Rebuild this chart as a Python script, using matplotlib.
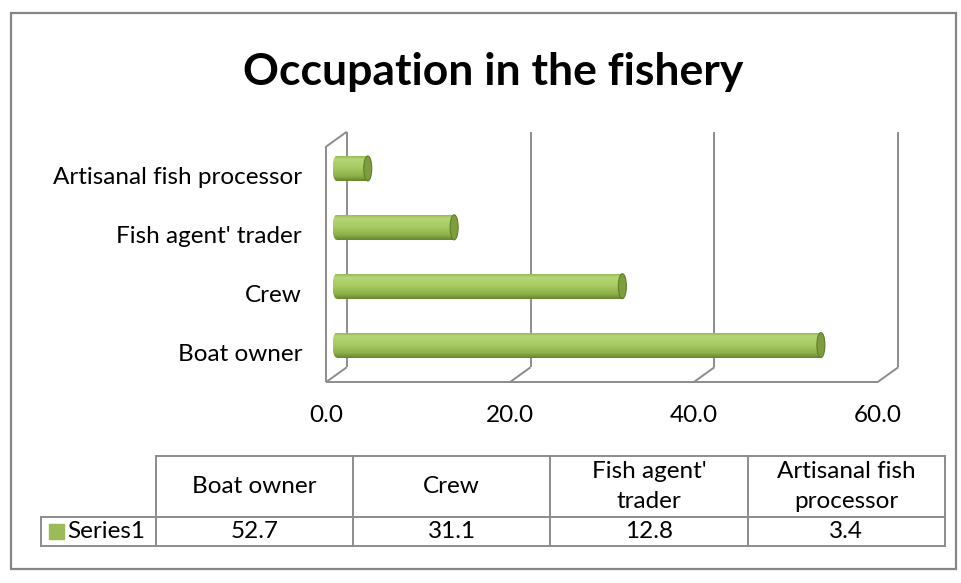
import textwrap
import numpy as np
import matplotlib.pyplot as plt
from matplotlib.patches import Ellipse, Rectangle
from matplotlib.colors import LinearSegmentedColormap

# data
categories = ["Boat owner", "Crew", "Fish agent' trader", "Artisanal fish processor"]
values = [52.7, 31.1, 12.8, 3.4]
x_ticks = [0, 20, 40, 60]
series_name = "Series1"
title = "Occupation in the fishery"

W, H = 961, 583
plt.rcParams['font.family'] = ['Lato', 'DejaVu Sans']
fig = plt.figure(figsize=(W / 100, H / 100), dpi=100)
fig.patch.set_facecolor('white')

grey = '#8c8c8c'
green = '#9bbb59'
fs = 17.5


def fig_box(left, top, right, bottom):
    return [left / W, 1 - bottom / H, (right - left) / W, (bottom - top) / H]


# outer chart border
fig.patches.append(Rectangle((11 / W, 1 - 569 / H), 945 / W, 556 / H,
                             transform=fig.transFigure, fill=False,
                             edgecolor='#868686', lw=1.6))

fig.text(493 / W, 1 - 85 / H, title, ha='center', va='baseline',
         fontsize=32, fontweight='bold')

# bar axes = middle depth plane of the fake 3D box
left, top, right, bottom = 336.5, 139, 888, 374.5
ax = fig.add_axes(fig_box(left, top, right, bottom))
ax.axis('off')
sx = (right - left) / 60
sy = (bottom - top) / 4
y0, y1 = -0.5, 3.5
bx, by = 10.25 / sx, 7.25 / sy       # back wall shift
fx, fy = -10.25 / sx, -7.5 / sy      # front shift

line_kw = dict(color=grey, lw=1.4, clip_on=False, zorder=1,
               solid_capstyle='butt')
for t in x_ticks:
    ax.plot([t + bx, t + bx], [y0 + by, y1 + by], **line_kw)
    ax.plot([t + bx, t + fx], [y0 + by, y0 + fy], **line_kw)
ax.plot([x_ticks[0] + fx, x_ticks[-1] + fx], [y0 + fy, y0 + fy], **line_kw)
ax.plot([fx, fx], [y0 + fy, y1 + fy], **line_kw)
ax.plot([fx, bx], [y1 + fy, y1 + by], **line_kw)

# cylinders
bar_h = 25 / sy
cap_w = 8 / sx
cyl = LinearSegmentedColormap.from_list('cyl', [
    (0.0, '#97b957'), (0.12, '#b5d675'), (0.45, '#a8cb63'),
    (0.8, '#8fb04a'), (1.0, '#66862d')])
grad = np.linspace(0, 1, 64).reshape(-1, 1)
bars = ax.barh(range(len(values)), values, height=bar_h, color=green,
               zorder=3)
for i, (v, rect) in enumerate(zip(values, bars)):
    ext = (-cap_w / 2, v, i - bar_h / 2, i + bar_h / 2)
    im = ax.imshow(grad, cmap=cyl, aspect='auto', extent=ext, zorder=4,
                   interpolation='bicubic')
    im.set_clip_path(rect)
    end_l = Ellipse((0, i), cap_w, bar_h, transform=ax.transData)
    im2 = ax.imshow(grad, cmap=cyl, aspect='auto', extent=ext, zorder=4,
                    interpolation='bicubic')
    im2.set_clip_box(fig.bbox)
    im2.set_clip_path(end_l)
    ax.add_patch(Ellipse((v, i), cap_w, bar_h, facecolor='#7e9e3e',
                         edgecolor='#5f7d2b', lw=0.8, zorder=5))

ax.set_xlim(0, 60)
ax.set_ylim(y0, y1)

# category labels and value axis labels
for i, c in enumerate(categories):
    ax.text((302 - left) / sx, i - 9.5 / sy, c, ha='right', va='center',
            fontsize=fs, clip_on=False)
for t in x_ticks:
    ax.text(t + fx, y0 - (415 - bottom) / sy, f'{t:.1f}', ha='center',
            va='center', fontsize=fs, clip_on=False)

# data table
t_left, t_top, t_right, t_bot, t_split = 155.7, 456, 945, 546, 517
tab = fig.add_axes(fig_box(t_left, t_top, t_right, t_bot))
tab.axis('off')
n = len(categories)
tab.set_xlim(0, n)
tab.set_ylim(0, 1)
cw = (t_right - t_left) / n
r = (t_bot - t_split) / (t_bot - t_top)
leg_left = -(t_left - 40.7) / cw
tk = dict(color=grey, lw=1.4, clip_on=False)
tab.plot([0, n], [1, 1], **tk)
tab.plot([leg_left, n], [r, r], **tk)
tab.plot([leg_left, n], [0, 0], **tk)
tab.plot([leg_left, leg_left], [0, r], **tk)
for j in range(n + 1):
    tab.plot([j, j], [0, 1], **tk)
for j, (c, v) in enumerate(zip(categories, values)):
    tab.text(j + 0.5, (r + 1) / 2, textwrap.fill(c, 14), ha='center',
             va='center', fontsize=fs, linespacing=1.5)
    tab.text(j + 0.5, r / 2, f'{v:.1f}', ha='center', va='center',
             fontsize=fs)
tab.add_patch(Rectangle(((49 - t_left) / cw, r / 2 - 7.5 / (t_bot - t_top)),
                        15 / cw, 15 / (t_bot - t_top), color=green,
                        clip_on=False))
tab.text((67 - t_left) / cw, r / 2, series_name, ha='left', va='center',
         fontsize=fs)

fig.savefig('out.png', dpi=100)
